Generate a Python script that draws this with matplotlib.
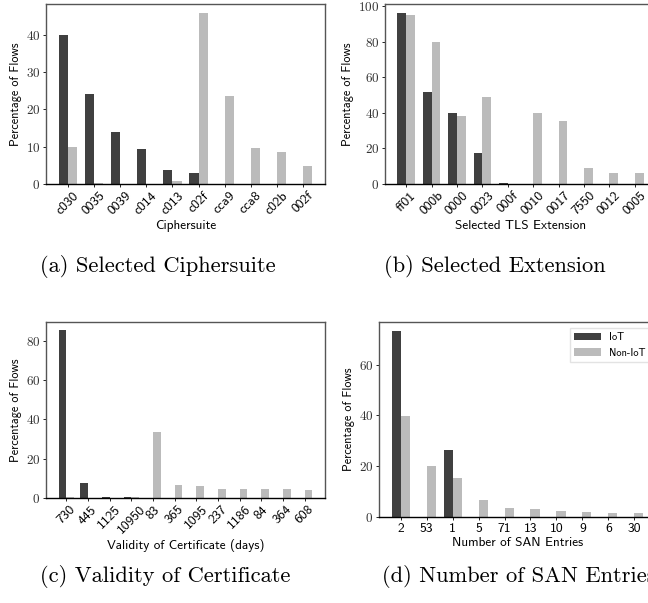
import numpy as np
import matplotlib
matplotlib.use("Agg")
import matplotlib.pyplot as plt

plt.rcParams['font.family'] = ['cmss10', 'DejaVu Sans']
plt.rcParams['axes.formatter.use_mathtext'] = True

dark = '#404040'
light = '#bbbbbb'

# (a) ciphersuite
cs_labels = ['c030', '0035', '0039', 'c014', 'c013', 'c02f', 'cca9', 'cca8', 'c02b', '002f']
cs_iot = [39.8, 24.0, 14.0, 9.4, 3.8, 3.0, 0.1, 0.1, 0.1, 0.1]
cs_non = [10.0, 0.4, 0.0, 0.0, 0.9, 45.9, 23.6, 9.7, 8.6, 4.9]

# (b) extension
ext_labels = ['ff01', '000b', '0000', '0023', '000f', '0010', '0017', '7550', '0012', '0005']
ext_iot = [96.4, 52.0, 40.2, 17.6, 0.8, 0.1, 0.1, 0.1, 0.1, 0.1]
ext_non = [94.9, 80.1, 38.1, 49.2, 0.0, 40.2, 35.6, 9.2, 6.4, 6.4]

# (c) validity
val_labels = ['730', '445', '1125', '10950', '83', '365', '1095', '237', '1186', '84', '364', '608']
val_iot = [85.4, 7.8, 0.7, 0.6, 0.0, 0.0, 0.0, 0.0, 0.0, 0.0, 0.0, 0.0]
val_non = [0.6, 0.0, 0.0, 0.6, 33.7, 6.8, 6.3, 4.7, 4.7, 4.7, 4.7, 4.2]

# (d) SAN entries
san_labels = ['2', '53', '1', '5', '71', '13', '10', '9', '6', '30']
san_iot = [73.1, 0.1, 26.2, 0.1, 0.1, 0.1, 0.1, 0.1, 0.1, 0.1]
san_non = [39.6, 20.1, 15.2, 6.6, 3.4, 3.0, 2.2, 1.8, 1.4, 1.4]

W, H = 648, 603
fig = plt.figure(figsize=(W / 100, H / 100), dpi=100)


def px(l, r, t, b):
    return [l / W, 1 - b / H, (r - l) / W, (b - t) / H]


def panel(rect, labels, iot, non, xlabel, rot, legend=False):
    ax = fig.add_axes(rect)
    x = np.arange(len(labels))
    w = 0.35
    ax.bar(x - w / 2, iot, w, color=dark, label='IoT')
    ax.bar(x + w / 2, non, w, color=light, label='Non-IoT')
    ax.set_xticks(x)
    ax.set_xticklabels(labels, rotation=rot, ha='center', fontsize=9.8)
    for t in ax.get_yticklabels():
        t.set_fontfamily('cmr10')
        t.set_fontsize(9.5)
        t.set_color('#333333')
    ax.tick_params(axis='both', length=2, width=0.6, pad=2)
    ax.set_ylabel('Percentage of Flows', fontsize=8.8, labelpad=3)
    ax.set_xlabel(xlabel, fontsize=9.5, labelpad=2)
    for s in ax.spines.values():
        s.set_color('#555555')
        s.set_linewidth(1.0)
    ax.spines['bottom'].set_color('black')
    if legend:
        ax.legend(loc='upper right', fontsize=7.5, frameon=True, fancybox=False,
                  edgecolor='#dddddd', handlelength=2.6, borderaxespad=0.6)
    return ax


panel(px(46, 325, 4, 184), cs_labels, cs_iot, cs_non, 'Ciphersuite', 45)
panel(px(385, 656, 4, 184), ext_labels, ext_iot, ext_non, 'Selected TLS Extension', 45)
panel(px(46, 325, 322, 498), val_labels, val_iot, val_non, 'Validity of Certificate (days)', 45)
panel(px(379, 656, 322, 517), san_labels, san_iot, san_non, 'Number of SAN Entries', 0, legend=True)

caps = [(40, 267, '(a) Selected Ciphersuite'), (384, 267, '(b) Selected Extension'),
        (40, 576, '(c) Validity of Certificate'), (382, 576, '(d) Number of SAN Entries')]
for cx, cy, txt in caps:
    fig.text(cx / W, 1 - cy / H, txt, ha='left', va='center', fontsize=16.2, fontfamily='cmr10')

fig.savefig('out.png', dpi=100)
